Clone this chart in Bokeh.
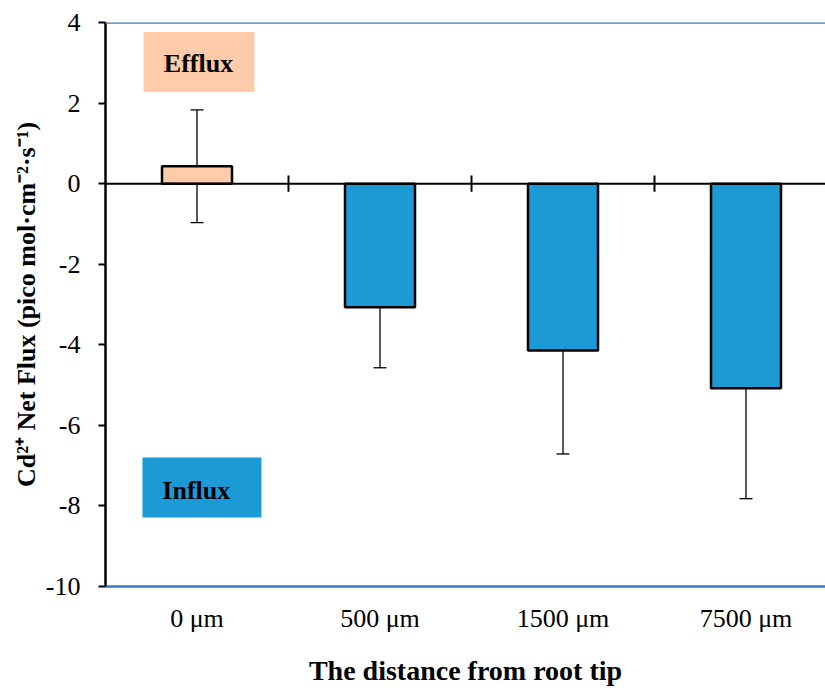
from bokeh.plotting import figure
from bokeh.models import (ColumnDataSource, Range1d, FixedTicker, Span, Whisker,
                          TeeHead, BoxAnnotation, Label)
from bokeh.embed import file_html
from bokeh.resources import INLINE

# ---- data ----
categories = ["0 μm", "500 μm", "1500 μm", "7500 μm"]
flux = [0.43, -3.07, -4.14, -5.08]
flux_sd = [1.40, 1.50, 2.57, 2.74]
bar_colors = ["#FFCBA9", "#1B9AD6", "#1B9AD6", "#1B9AD6"]
y_ticks = [-10, -8, -6, -4, -2, 0, 2, 4]
y_tick_labels = ["-10", "-8", "-6", "-4", "-2", "0", "2", "4"]

FONT = "Liberation Serif"
BLUE_LINE = "#2F7FCB"

xs = [i + 0.5 for i in range(len(categories))]
src = ColumnDataSource(dict(
    x=xs, top=flux, color=bar_colors,
    upper=[m + s for m, s in zip(flux, flux_sd)],
    lower=[m - s for m, s in zip(flux, flux_sd)],
))

p = figure(width=825, height=688, output_backend="svg", toolbar_location=None,
           x_range=Range1d(0, 720 / 183), y_range=Range1d(-10, 4),
           min_border_left=105, min_border_right=0, min_border_top=22,
           min_border_bottom=102)
p.outline_line_color = None
p.grid.visible = False
p.background_fill_color = "white"

p.vbar(x="x", top="top", bottom=0, width=70 / 183, source=src,
       fill_color="color", line_color="black", line_width=2.5)

# zero line with category separators
p.add_layout(Span(location=0, dimension="width", line_color="black", line_width=2))
bounds = list(range(1, len(categories)))
p.segment(x0=bounds, x1=bounds, y0=[0.2] * len(bounds), y1=[-0.2] * len(bounds),
          line_color="black", line_width=2)

# error bars
wh = Whisker(source=src, base="x", upper="upper", lower="lower",
             line_color="black", line_width=1.3,
             upper_head=TeeHead(size=13, line_color="black", line_width=1.3),
             lower_head=TeeHead(size=13, line_color="black", line_width=1.3))
p.add_layout(wh)

# top border
p.add_layout(Span(location=4, dimension="width", line_color=BLUE_LINE, line_width=2.5))

# labelled boxes
p.add_layout(BoxAnnotation(left=0.208, right=0.814, top=3.764, bottom=2.273,
                           fill_color="#FFCBA9", fill_alpha=1, line_color=None, level="underlay"))
p.add_layout(BoxAnnotation(left=0.202, right=0.852, top=-6.795, bottom=-8.286,
                           fill_color="#1B9AD6", fill_alpha=1, line_color=None, level="underlay"))
p.add_layout(Label(x=0.508, y=2.99, text="Efflux", text_font=FONT, text_font_style="bold",
                   text_font_size="26px", text_align="center", text_baseline="middle",
                   text_color="black"))
p.add_layout(Label(x=0.496, y=-7.615, text="Influx", text_font=FONT, text_font_style="bold",
                   text_font_size="26px", text_align="center", text_baseline="middle",
                   text_color="black"))

# x axis
xa = p.xaxis[0]
xa.ticker = FixedTicker(ticks=xs)
xa.major_label_overrides = {x: c for x, c in zip(xs, categories)}
xa.major_tick_out = 0
xa.major_tick_in = 0
xa.minor_tick_out = 0
xa.axis_line_color = BLUE_LINE
xa.axis_line_width = 2.5
xa.major_label_text_font = FONT
xa.major_label_text_font_size = "26px"
xa.major_label_text_color = "black"
xa.major_label_standoff = 17
xa.axis_label = "The distance from root tip"
xa.axis_label_text_font = FONT
xa.axis_label_text_font_size = "28px"
xa.axis_label_text_font_style = "bold"
xa.axis_label_text_color = "black"
xa.axis_label_standoff = 19

# y axis
ya = p.yaxis[0]
ya.ticker = FixedTicker(ticks=y_ticks)
ya.major_label_overrides = {t: s for t, s in zip(y_ticks, y_tick_labels)}
ya.major_tick_out = 7
ya.major_tick_in = 0
ya.minor_tick_out = 0
ya.minor_tick_in = 0
ya.major_tick_line_width = 2
ya.axis_line_width = 2.5
ya.axis_line_color = "black"
ya.major_tick_line_color = "black"
ya.major_label_text_font = FONT
ya.major_label_text_font_size = "26px"
ya.major_label_text_color = "black"
ya.major_label_standoff = 18
ya.axis_label = "Cd²⁺ Net Flux (pico mol·cm⁻²·s⁻¹)"
ya.axis_label_text_font = FONT
ya.axis_label_text_font_size = "26px"
ya.axis_label_text_font_style = "bold"
ya.axis_label_text_color = "black"
ya.axis_label_standoff = 2

open("out.html", "w").write(file_html(p, INLINE))
